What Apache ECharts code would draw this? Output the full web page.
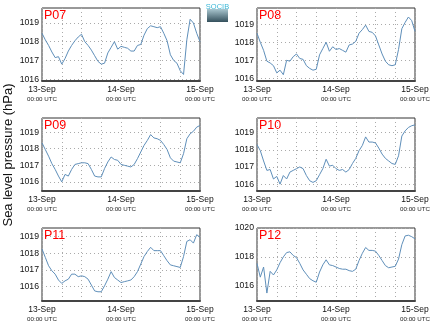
<!DOCTYPE html>
<html>
<head>
<meta charset="utf-8">
<script src="https://cdn.jsdelivr.net/npm/echarts@6/dist/echarts.min.js"></script>
<style>
html,body{margin:0;padding:0;background:#fff;}
#c{width:434px;height:327px;}
</style>
</head>
<body>
<div id="c"></div>
<script>
const hours = [0,1,2,3,4,5,6,7,8,9,10,11,12,13,14,15,16,17,18,19,20,21,22,23,24,25,26,27,28,29,30,31,32,33,34,35,36,37,38,39,40,41,42,43,44,45,46,47,48];
const stations = ['P07','P08','P09','P10','P11','P12'];
const p07 = [1018.45,1018.1,1017.8,1017.45,1017.15,1017.2,1016.8,1017.1,1017.5,1017.8,1018.05,1018.25,1018.4,1018.0,1017.8,1017.55,1017.25,1016.95,1016.8,1016.85,1017.4,1017.7,1018.0,1017.6,1017.75,1017.7,1017.65,1017.5,1017.5,1017.8,1017.85,1018.35,1018.7,1018.85,1018.8,1018.75,1018.8,1018.45,1018.05,1017.3,1017.0,1016.85,1016.45,1016.25,1018.1,1019.2,1019.0,1018.45,1018.0];
const p08 = [1018.5,1018.0,1017.55,1016.95,1016.85,1016.7,1016.3,1016.45,1016.2,1017.0,1016.95,1017.2,1017.35,1017.1,1017.05,1016.7,1016.55,1016.45,1016.5,1017.3,1017.65,1018.0,1017.5,1017.75,1017.6,1017.65,1017.55,1017.45,1017.85,1017.9,1018.05,1018.5,1018.7,1018.95,1018.6,1018.55,1018.35,1017.85,1017.35,1016.95,1016.75,1016.7,1016.75,1017.6,1018.75,1019.1,1019.4,1019.2,1018.6];
const p09 = [1018.35,1017.95,1017.55,1017.1,1016.75,1016.35,1016.0,1016.45,1016.35,1016.75,1017.05,1017.1,1017.15,1017.15,1017.1,1016.75,1016.35,1016.3,1016.3,1016.8,1017.2,1017.5,1017.35,1017.3,1017.05,1017.0,1016.95,1016.9,1017.05,1017.4,1017.8,1018.2,1018.5,1018.85,1018.65,1018.6,1018.5,1018.25,1017.95,1017.45,1017.25,1017.2,1017.15,1017.7,1018.6,1018.9,1019.05,1019.3,1019.4];
const p10 = [1018.3,1017.95,1017.35,1016.8,1016.85,1016.3,1016.45,1016.0,1016.5,1016.3,1016.7,1016.8,1016.9,1017.0,1016.9,1016.5,1016.2,1016.1,1016.2,1016.55,1016.9,1017.45,1017.05,1017.1,1016.9,1016.8,1016.85,1016.7,1016.85,1017.2,1017.5,1017.95,1018.25,1018.75,1018.45,1018.45,1018.4,1018.1,1017.75,1017.5,1017.35,1017.2,1017.15,1017.65,1018.8,1019.1,1019.3,1019.4,1019.45];
const p11 = [1018.25,1017.75,1017.25,1016.95,1016.75,1016.4,1016.2,1016.35,1016.45,1016.75,1016.75,1016.6,1016.65,1016.6,1016.45,1016.1,1015.75,1015.7,1015.7,1016.05,1016.45,1016.9,1016.55,1016.4,1016.25,1016.3,1016.35,1016.4,1016.6,1016.9,1017.35,1017.8,1018.1,1018.35,1018.15,1018.15,1018.15,1017.85,1017.55,1017.3,1017.25,1017.2,1017.15,1017.8,1018.7,1018.8,1018.6,1019.1,1018.95];
const p12 = [1017.55,1016.6,1017.3,1015.5,1017.0,1016.75,1017.1,1017.6,1018.0,1018.3,1018.35,1018.1,1017.95,1017.55,1017.1,1016.8,1016.5,1016.35,1016.25,1016.95,1017.45,1017.8,1017.45,1017.4,1017.3,1017.2,1017.15,1017.15,1017.05,1017.0,1017.15,1017.75,1018.25,1018.65,1018.45,1018.45,1018.4,1018.1,1017.75,1017.4,1017.25,1017.3,1017.35,1017.85,1018.85,1019.45,1019.5,1019.4,1019.25];
const seriesValues = [p07, p08, p09, p10, p11, p12];
const yMin = [1015.9, 1015.85, 1015.45, 1015.6, 1015.15, 1014.95];
const yMax = [1019.8, 1019.9, 1019.85, 1019.85, 1019.5, 1020];
const yTicks = [
  [1016, 1017, 1018, 1019],
  [1016, 1017, 1018, 1019],
  [1016, 1017, 1018, 1019],
  [1016, 1017, 1018, 1019],
  [1016, 1017, 1018, 1019],
  [1016, 1018, 1020]
];
const dayLabels = {0: '13-Sep', 24: '14-Sep', 48: '15-Sep'};
const timeLabel = '00:00 UTC';
const yTitle = 'Sea level pressure (hPa)';
const logoText = 'SOCIB';

const FONT = 'Liberation Sans, Arial, sans-serif';
const lefts = [42, 257];
const tops = [8, 118, 228];
const W = 158, H = 73;

const grids = [], xAxes = [], yAxes = [], series = [], titles = [];
stations.forEach((name, i) => {
  const left = lefts[i % 2], top = tops[Math.floor(i / 2)];
  grids.push({left: left, top: top, width: W, height: H, show: true, borderColor: '#333', borderWidth: 1, backgroundColor: '#fff'});
  xAxes.push({
    type: 'value', gridIndex: i, min: 0, max: 48, interval: 6,
    axisLine: {show: true, onZero: false, lineStyle: {color: '#444', width: 2}},
    axisTick: {show: false},
    splitLine: {show: true, lineStyle: {color: '#aaa', width: 1, type: [1, 3]}},
    axisLabel: {
      margin: 4, fontFamily: FONT, showMinLabel: true, showMaxLabel: true,
      formatter: v => dayLabels[v] !== undefined ? '{a|' + dayLabels[v] + '}\n{b|' + timeLabel + '}' : '',
      rich: {
        a: {fontSize: 8.5, lineHeight: 10, color: '#111', fontFamily: FONT},
        b: {fontSize: 6.2, lineHeight: 9, color: '#222', fontFamily: FONT}
      }
    }
  });
  yAxes.push({
    type: 'value', gridIndex: i, min: yMin[i], max: yMax[i],
    axisLine: {show: false},
    axisTick: {show: false, customValues: yTicks[i]},
    splitLine: {show: true, lineStyle: {color: '#aaa', width: 1, type: [1, 3]}},
    axisLabel: {
      margin: 3, fontSize: 8.7, color: '#111', fontFamily: FONT,
      customValues: yTicks[i],
      formatter: v => String(Math.round(v))
    }
  });
  series.push({
    type: 'line', xAxisIndex: i, yAxisIndex: i, showSymbol: false, symbol: 'none',
    data: hours.map((h, k) => [h, seriesValues[i][k]]),
    lineStyle: {color: '#5f8fba', width: 1}, animation: false
  });
  titles.push({
    text: name, left: left + 2, top: top + 1, padding: 0,
    textStyle: {color: '#f00', fontSize: 12.5, fontWeight: 'normal', fontFamily: FONT}
  });
});

const chart = echarts.init(document.getElementById('c'), null, {renderer: 'canvas'});
chart.setOption({
  animation: false,
  backgroundColor: '#fff',
  title: titles,
  grid: grids, xAxis: xAxes, yAxis: yAxes, series: series,
  graphic: [
    {type: 'text', x: 8, y: 155, rotation: Math.PI / 2,
     style: {text: yTitle, fontSize: 13, fontFamily: FONT, fill: '#111', textAlign: 'center', textVerticalAlign: 'middle'}},
    {type: 'rect', shape: {x: 207, y: 9, width: 21, height: 13},
     style: {fill: new echarts.graphic.LinearGradient(0, 0, 0, 1, [{offset: 0, color: '#a9c6cf'}, {offset: 1, color: '#34505c'}])}},
    {type: 'text', x: 217.5, y: 6.5,
     style: {text: logoText, fontSize: 7.5, fontFamily: FONT, fill: '#3bb8d8', textAlign: 'center', textVerticalAlign: 'middle'}}
  ]
});
</script>
</body>
</html>
